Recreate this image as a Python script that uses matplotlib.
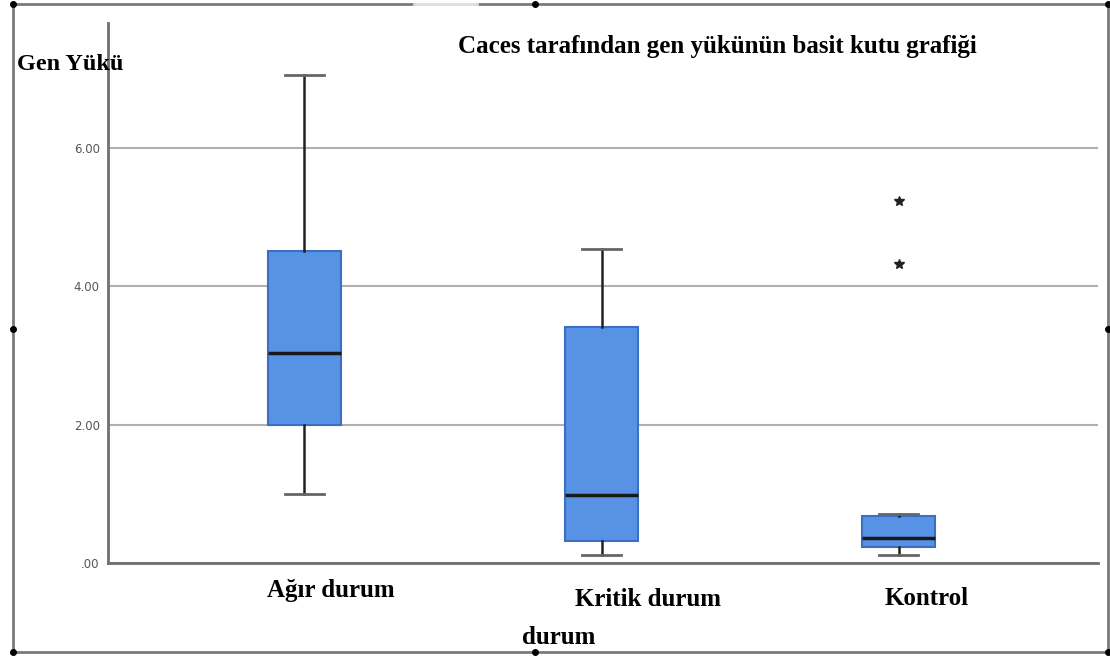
import matplotlib
matplotlib.use("Agg")
import matplotlib.pyplot as plt
from matplotlib.lines import Line2D

# box statistics
groups = ["Ağır durum", "Kritik durum", "Kontrol"]
whislo = [1.0, 0.12, 0.12]
q1 = [2.0, 0.32, 0.23]
med = [3.03, 0.98, 0.36]
q3 = [4.51, 3.41, 0.68]
whishi = [7.05, 4.53, 0.71]
fliers = [[], [], [5.23, 4.32]]
yticks = [0, 2, 4, 6]
ytick_labels = [".00", "2.00", "4.00", "6.00"]

serif = "Liberation Serif"
box_color = "#5892e4"
edge_color = "#3a70c4"

fig = plt.figure(figsize=(11.1, 6.57), dpi=100)
ax = fig.add_axes([108 / 1110, 94 / 657, 990 / 1110, 540 / 657])

stats = []
for i in range(len(groups)):
    stats.append(dict(label=groups[i], whislo=whislo[i], q1=q1[i], med=med[i],
                      q3=q3[i], whishi=whishi[i], fliers=fliers[i]))

ax.bxp(stats, positions=[1, 2, 3], widths=0.245, capwidths=0.13,
       patch_artist=True, zorder=3,
       boxprops=dict(facecolor=box_color, edgecolor=edge_color, linewidth=1.5),
       medianprops=dict(color="#1a1a1a", linewidth=2.5),
       whiskerprops=dict(color="#222222", linewidth=1.8),
       capprops=dict(color="#666666", linewidth=2),
       flierprops=dict(marker="*", markersize=7, markerfacecolor="#222222",
                       markeredgecolor="#222222", linestyle="none"))

ax.set_xlim(0.34, 3.67)
ax.set_ylim(0, 7.8)
ax.set_yticks(yticks)
ax.set_yticklabels(ytick_labels, fontsize=8.5, color="#555555")
ax.tick_params(axis="y", length=0, pad=6)
ax.set_xticks([])
ax.grid(axis="y", color="#b0b0b0", linewidth=1.5, zorder=0)

for s in ["top", "right"]:
    ax.spines[s].set_visible(False)
for s in ["left", "bottom"]:
    ax.spines[s].set_color("#707070")
    ax.spines[s].set_linewidth(2)

# category labels, placed a little off the box centres like the original
label_dx = [0.09, 0.158, 0.094]
label_y = [-0.40, -0.53, -0.51]
for i, g in enumerate(groups):
    ax.text(i + 1 + label_dx[i], label_y[i], g, ha="center", va="center",
            fontsize=18, fontweight="bold", family=serif, clip_on=False)

fig.text(559 / 1110, 1 - 638 / 657, "durum", ha="center", va="center",
         fontsize=18, fontweight="bold", family=serif)
fig.text(17 / 1110, 1 - 65 / 657, "Gen Yükü", ha="left", va="center",
         fontsize=17.5, fontweight="bold", family=serif)
fig.text(717 / 1110, 1 - 46 / 657, "Caces tarafından gen yükünün basit kutu grafiği",
         ha="center", va="center", fontsize=18, fontweight="bold", family=serif)

# outer frame with selection handles
fx0, fx1 = 13 / 1110, 1108 / 1110
fy0, fy1 = 1 - 652 / 657, 1 - 4 / 657
frame_kw = dict(color="#7a7a7a", linewidth=2, transform=fig.transFigure)
fig.add_artist(Line2D([fx0, fx0], [fy0, fy1], **frame_kw))
fig.add_artist(Line2D([fx1, fx1], [fy0, fy1], **frame_kw))
fig.add_artist(Line2D([fx0, fx1], [fy0, fy0], **frame_kw))
fig.add_artist(Line2D([fx0, 414 / 1110], [fy1, fy1], **frame_kw))
fig.add_artist(Line2D([477 / 1110, fx1], [fy1, fy1], **frame_kw))
fig.add_artist(Line2D([414 / 1110, 477 / 1110], [fy1, fy1], color="#dddddd",
                      linewidth=2, transform=fig.transFigure))
hx = [fx0, 535 / 1110, fx1, fx0, fx1, fx0, 535 / 1110, fx1]
hy = [fy1, fy1, fy1, 0.5, 0.5, fy0, fy0, fy0]
fig.add_artist(Line2D(hx, hy, linestyle="none", marker="o", markersize=4,
                      color="black", transform=fig.transFigure))

fig.savefig("out.png", dpi=100)
